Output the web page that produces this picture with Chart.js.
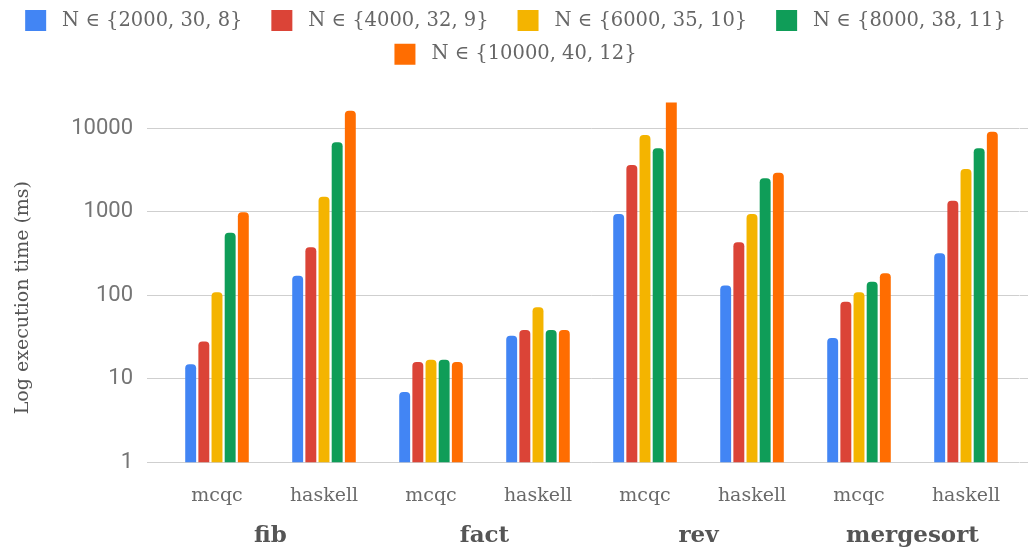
<!DOCTYPE html>
<html>
<head>
<meta charset="utf-8">
<script src="https://cdn.jsdelivr.net/npm/chart.js@4/dist/chart.umd.min.js"></script>
<style>
  html, body { margin: 0; padding: 0; background: #ffffff; }
  #wrap { width: 1031px; height: 553px; position: relative; }
</style>
</head>
<body>
<div id="wrap"><canvas id="chart"></canvas></div>
<script>
// Implementations compared within each benchmark
const categories = ['mcqc', 'haskell', 'mcqc', 'haskell', 'mcqc', 'haskell', 'mcqc', 'haskell'];
// Benchmarks, each spanning two implementation columns
const benchmarks = ['fib', 'fact', 'rev', 'mergesort'];
// Problem sizes used for each run
const seriesLabels = [
  'N \u2208 {2000, 30, 8}',
  'N \u2208 {4000, 32, 9}',
  'N \u2208 {6000, 35, 10}',
  'N \u2208 {8000, 38, 11}',
  'N \u2208 {10000, 40, 12}'
];
const seriesColors = ['#4285F4', '#DB4437', '#F4B400', '#0F9D58', '#FF6D01'];

// Execution times in ms, ordered as in `categories`
const timesN1 = [15, 172, 7, 33, 940, 131, 31, 320];
const timesN2 = [28, 377, 16, 38.5, 3640, 432, 84, 1360];
const timesN3 = [109, 1520, 17, 72, 8300, 940, 109, 3260];
const timesN4 = [563, 6790, 17, 38.5, 5770, 2520, 146, 5770];
const timesN5 = [990, 16250, 16, 38.5, 24000, 2940, 184, 9100];
const seriesValues = [timesN1, timesN2, timesN3, timesN4, timesN5];

// Decades shown on the value axis
const yTicks = [1, 10, 100, 1000, 10000];
const yMin = 1;
const yMax = 20300;

const serif = '"DejaVu Serif", "Liberation Serif", serif';
const gridColor = '#cfcfcf';

const datasets = seriesLabels.map((label, i) => ({
  label: label,
  data: seriesValues[i],
  backgroundColor: seriesColors[i],
  borderWidth: 0,
  borderRadius: 4,
  categoryPercentage: 0.615,
  barPercentage: 0.83
}));

const decadeTicks = (axis) => { axis.ticks = yTicks.map(v => ({ value: v })); };

// Legend entries: a little air after the swatch, wider gaps between entries
// that share the first row
const legendItems = (chart) => chart.data.datasets.map((ds, i) => ({
  text: ' ' + ds.label + (i < 3 ? '  \u2009' : ''),
  fillStyle: ds.backgroundColor,
  strokeStyle: ds.backgroundColor,
  lineWidth: 0,
  fontColor: '#666666',
  hidden: !chart.isDatasetVisible(i),
  datasetIndex: i
}));

new Chart(document.getElementById('chart'), {
  type: 'bar',
  data: { labels: categories, datasets: datasets },
  options: {
    responsive: true,
    maintainAspectRatio: false,
    animation: false,
    layout: { padding: { top: -2.5, left: 0, right: 0, bottom: 0 } },
    plugins: {
      tooltip: { enabled: false },
      title: {
        display: true,
        text: '',
        weight: 500,
        font: { size: 10 },
        padding: { top: 0, bottom: 15.9 }
      },
      legend: {
        position: 'top',
        labels: {
          font: { family: serif, size: 19.5 },
          color: '#666666',
          boxWidth: 21,
          boxHeight: 21,
          padding: 12.6,
          useBorderRadius: true,
          borderRadius: 3,
          generateLabels: legendItems
        }
      }
    },
    scales: {
      x: {
        type: 'category',
        position: 'bottom',
        weight: 0,
        offset: true,
        grid: { display: false },
        border: { display: false },
        ticks: {
          font: { family: serif, size: 19 },
          color: '#6a6a6a',
          padding: 14,
          maxRotation: 0,
          autoSkip: false
        },
        afterFit: (s) => { s.height = 50; }
      },
      x2: {
        type: 'category',
        position: 'bottom',
        weight: 1,
        labels: benchmarks,
        offset: true,
        grid: { display: false },
        border: { display: false },
        ticks: {
          font: { family: serif, size: 23, weight: 'bold' },
          color: '#555555',
          padding: 1.7,
          maxRotation: 0,
          autoSkip: false
        },
        afterFit: (s) => { s.height = 40.5; }
      },
      y: {
        type: 'logarithmic',
        position: 'left',
        min: yMin,
        max: yMax,
        afterBuildTicks: decadeTicks,
        border: { display: false },
        grid: { color: gridColor, lineWidth: 1, tickLength: 16.5 },
        ticks: {
          font: { family: 'Roboto', size: 22 },
          color: '#757575',
          padding: 14,
          callback: (v) => String(v)
        },
        title: {
          display: true,
          text: 'Log execution time (ms)     ',
          font: { family: serif, size: 19 },
          color: '#555555',
          padding: { top: 11.5, bottom: 0 }
        },
        afterFit: (s) => { s.width = 163.5; }
      },
      y2: {
        type: 'logarithmic',
        position: 'right',
        min: yMin,
        max: yMax,
        afterBuildTicks: decadeTicks,
        border: { display: false },
        grid: { color: gridColor, lineWidth: 1, drawOnChartArea: false, tickLength: 8.5 },
        ticks: { display: false },
        afterFit: (s) => { s.width = 11.5; }
      }
    }
  }
});
</script>
</body>
</html>
